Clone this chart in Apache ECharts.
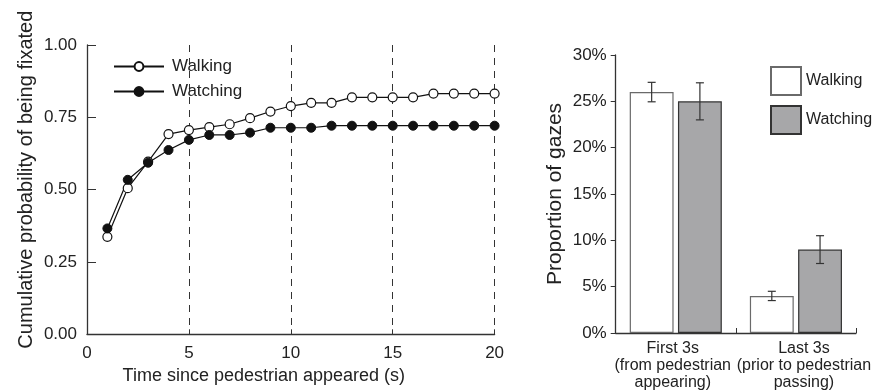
<!DOCTYPE html>
<html>
<head>
<meta charset="utf-8">
<script src="https://cdn.jsdelivr.net/npm/echarts@6/dist/echarts.min.js"></script>
<style>
html,body{margin:0;padding:0;background:#fff;}
#chart{width:877px;height:391px;}
</style>
</head>
<body>
<div id="chart"></div>
<script>
// ---- Left panel data ----
const timeSec = [1,2,3,4,5,6,7,8,9,10,11,12,13,14,15,16,17,18,19,20];
const walkingProb  = [0.337,0.505,0.597,0.692,0.706,0.716,0.726,0.747,0.770,0.789,0.800,0.800,0.819,0.819,0.819,0.819,0.832,0.832,0.832,0.832];
const watchingProb = [0.366,0.534,0.593,0.637,0.672,0.689,0.689,0.697,0.714,0.714,0.714,0.721,0.721,0.721,0.721,0.721,0.721,0.721,0.721,0.721];
const probTicks = [0, 0.25, 0.5, 0.75, 1.0];
const timeTicks = [0, 5, 10, 15, 20];

// ---- Right panel data ----
const periods = ['First 3s\n(from pedestrian\nappearing)', 'Last 3s\n(prior to pedestrian\npassing)'];
const walkingShare = [26, 4];
const watchingShare = [25, 9];
const walkingErr = [1.05, 0.5];
const watchingErr = [2.0, 1.5];
const shareTicks = [0, 5, 10, 15, 20, 25, 30];

const groupNames = ['Walking', 'Watching'];

const FONT = "'Liberation Sans', Arial, sans-serif";
const TXT = '#222';
const AX = '#333';

const BAR_W = 0.365, BAR_GAP = 0.10;
const periodLabelPad = [[0, 6, 0, 0], [0, 0, 0, 16]];

function errItems(vals, errs, k) {
  return vals.map((v, i) => [i, v, errs[i], k]);
}

const chart = echarts.init(document.getElementById('chart'), null, {renderer: 'canvas'});

const option = {
  backgroundColor: '#fff',
  animation: false,
  textStyle: {fontFamily: FONT, color: TXT},
  grid: [
    {left: 87, top: 45, width: 407.6, height: 289.3, containLabel: false},
    {left: 615.7, top: 55, width: 240.3, height: 279.3, containLabel: false}
  ],
  legend: [
    {
      data: groupNames,
      orient: 'vertical',
      left: 113, top: 58, padding: 0,
      itemWidth: 50, itemHeight: 11, itemGap: 8,
      textStyle: {fontSize: 17, color: TXT, fontFamily: FONT, padding: [0,0,0,3]},
      selectedMode: false
    },
    {
      data: groupNames.map(n => n + ' '),
      orient: 'vertical',
      left: 770, top: 66, padding: 0,
      itemWidth: 30, itemHeight: 28, itemGap: 9,
      icon: 'rect',
      formatter: n => n.trim(),
      textStyle: {fontSize: 16, color: TXT, fontFamily: FONT},
      selectedMode: false
    }
  ],
  xAxis: [
    {
      gridIndex: 0, type: 'value', min: timeTicks[0], max: timeTicks[timeTicks.length-1], interval: 5,
      name: 'Time since pedestrian appeared (s)', nameLocation: 'middle', nameGap: 32,
      nameTextStyle: {fontSize: 18, color: TXT, fontFamily: FONT, padding: [0, 54, 0, 0]},
      axisLine: {show: true, lineStyle: {color: AX, width: 1.3}},
      axisTick: {show: true, inside: true, length: 5, lineStyle: {color: AX}},
      axisLabel: {fontSize: 17, color: TXT, margin: 11, fontFamily: FONT},
      splitLine: {show: true, lineStyle: {color: AX, type: [7, 6], width: 1}}
    },
    {
      gridIndex: 1, type: 'category',
      data: periods.map((p, i) => ({value: p, textStyle: {padding: periodLabelPad[i]}})),
      axisLine: {show: true, lineStyle: {color: AX, width: 1.3}},
      axisTick: {show: true, inside: true, length: 5, alignWithLabel: false, lineStyle: {color: AX}},
      axisLabel: {fontSize: 16, lineHeight: 17, color: TXT, margin: 7, interval: 0, fontFamily: FONT},
      splitLine: {show: false}
    }
  ],
  yAxis: [
    {
      gridIndex: 0, type: 'value', min: probTicks[0], max: probTicks[probTicks.length-1], interval: 0.25,
      name: 'Cumulative probability of being fixated', nameLocation: 'middle', nameGap: 51,
      nameTextStyle: {fontSize: 20, color: TXT, fontFamily: FONT, padding: [0, 0, 0, 20]},
      axisLine: {show: true, lineStyle: {color: AX, width: 1.3}},
      axisTick: {show: true, inside: true, length: 9, lineStyle: {color: AX}},
      axisLabel: {fontSize: 17, color: TXT, margin: 10, formatter: v => v.toFixed(2), fontFamily: FONT},
      splitLine: {show: false}
    },
    {
      gridIndex: 1, type: 'value', min: shareTicks[0], max: shareTicks[shareTicks.length-1], interval: 5,
      name: 'Proportion of gazes', nameLocation: 'middle', nameGap: 50,
      nameTextStyle: {fontSize: 21, color: TXT, fontFamily: FONT},
      axisLine: {show: true, lineStyle: {color: AX, width: 1.3}},
      axisTick: {show: true, inside: false, length: 5, lineStyle: {color: AX}},
      axisLabel: {fontSize: 17, color: TXT, margin: 9, formatter: '{value}%', fontFamily: FONT},
      splitLine: {show: false}
    }
  ],
  series: [
    {
      name: groupNames[0], type: 'line', xAxisIndex: 0, yAxisIndex: 0,
      data: timeSec.map((t, i) => [t, walkingProb[i]]),
      symbol: 'circle', symbolSize: 9,
      lineStyle: {color: '#111', width: 1.2},
      itemStyle: {color: '#fff', borderColor: '#111', borderWidth: 1.2}
    },
    {
      name: groupNames[1], type: 'line', xAxisIndex: 0, yAxisIndex: 0,
      data: timeSec.map((t, i) => [t, watchingProb[i]]),
      symbol: 'circle', symbolSize: 9,
      lineStyle: {color: '#111', width: 1.2},
      itemStyle: {color: '#111', borderColor: '#111', borderWidth: 1}
    },
    {
      name: groupNames[0] + ' ', type: 'bar', xAxisIndex: 1, yAxisIndex: 1,
      data: walkingShare, barWidth: (BAR_W*100) + '%', barGap: (BAR_GAP*100) + '%',
      itemStyle: {color: '#fff', borderColor: '#6a6a6a', borderWidth: 1.2}
    },
    {
      name: groupNames[1] + ' ', type: 'bar', xAxisIndex: 1, yAxisIndex: 1,
      data: watchingShare, barWidth: (BAR_W*100) + '%', barGap: (BAR_GAP*100) + '%',
      itemStyle: {color: '#a7a7a9', borderColor: '#333', borderWidth: 1.2}
    },
    {
      type: 'custom', xAxisIndex: 1, yAxisIndex: 1, z: 5,
      data: errItems(walkingShare, walkingErr, 0).concat(errItems(watchingShare, watchingErr, 1)),
      renderItem: function (params, api) {
        const ci = api.value(0), v = api.value(1), e = api.value(2), k = api.value(3);
        const band = api.size([1, 0])[0];
        const w = band * BAR_W;
        const off = (w * (1 + BAR_GAP)) / 2 * (k === 0 ? -1 : 1);
        const c = api.coord([ci, v]);
        const x = c[0] + off;
        const yt = api.coord([ci, v + e])[1];
        const yb = api.coord([ci, v - e])[1];
        const cap = 4;
        const st = {stroke: '#333', lineWidth: 1.2};
        return {
          type: 'group',
          children: [
            {type: 'line', shape: {x1: x, y1: yt, x2: x, y2: yb}, style: st},
            {type: 'line', shape: {x1: x - cap, y1: yt, x2: x + cap, y2: yt}, style: st},
            {type: 'line', shape: {x1: x - cap, y1: yb, x2: x + cap, y2: yb}, style: st}
          ]
        };
      }
    }
  ]
};
chart.setOption(option);
</script>
</body>
</html>
